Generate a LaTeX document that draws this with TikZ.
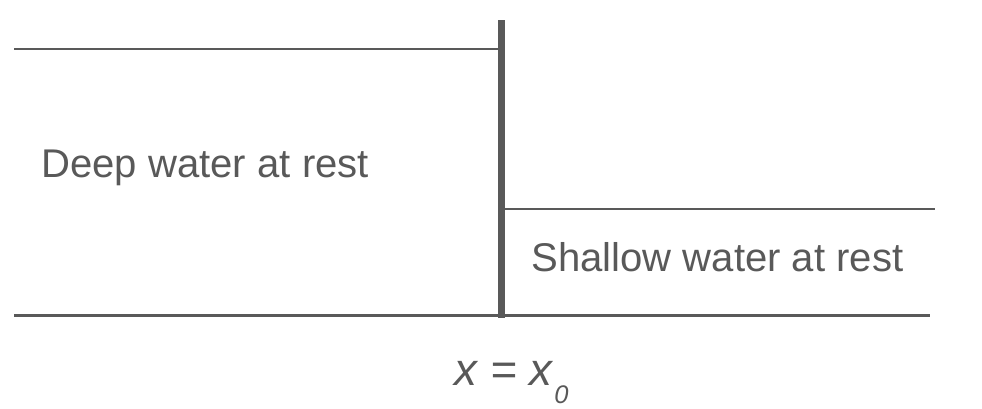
\documentclass[tikz,border=0pt]{standalone}
\usepackage{fontspec}
\setmainfont{Liberation Sans}
\usetikzlibrary{positioning}
\definecolor{linegray}{HTML}{595959}
\tikzset{
	labeltext/.style={font=\fontsize{22.8}{27}\selectfont, text=linegray, inner sep=0pt, anchor=base west}
}

\begin{document}
\begin{tikzpicture}[line width=1.7pt]
      \useasboundingbox (0,0) rectangle (19.64,8.16);

      % free surface of the deep water (left)
      \draw[linegray] (0.28,7.18) -- (10.03,7.18);
      % free surface of the shallow water (right)
      \draw[linegray] (10.03,3.98) -- (18.7,3.98);
      % flat bottom
      \draw[linegray] (0.28,1.85) -- (18.6,1.85);
      % dividing wall at x0
      \draw[linegray, line width=4pt] (10.03,7.76) -- (10.03,1.8);

      % labels
      \node[labeltext] (deep) at (0.8,4.62) {Deep water at rest};
      \node[labeltext] (shallow) at (10.6,2.73) {Shallow water at rest};
      \node[labeltext, font=\fontsize{26}{30}\selectfont\itshape] (xzero) at (9.06,0.46)
        {x = x\hspace{0.04cm}\raisebox{-0.36cm}{\fontsize{14.5}{16}\selectfont 0}};
    \end{tikzpicture}
\end{document}
